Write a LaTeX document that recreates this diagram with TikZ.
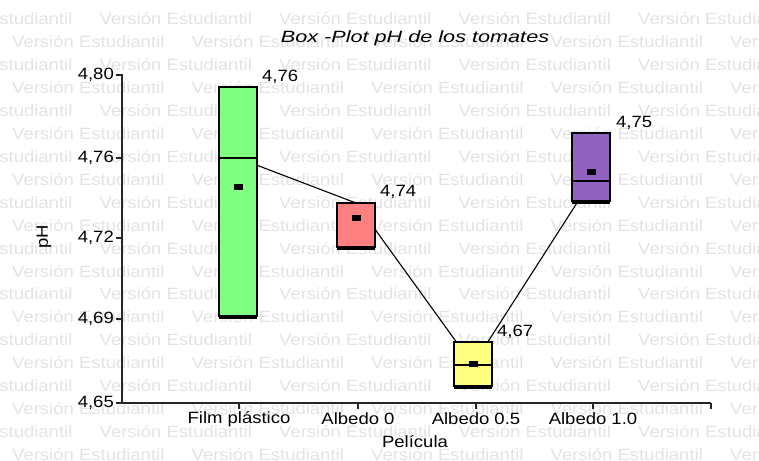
\documentclass[tikz,border=0pt]{standalone}
\usepackage{fontspec}
\setmainfont[FakeStretch=1.135]{Liberation Sans}
\usetikzlibrary{positioning,calc}

\definecolor{filmgreen}{RGB}{128,255,128}
\definecolor{albedored}{RGB}{255,128,128}
\definecolor{albedoyellow}{RGB}{255,255,128}
\definecolor{albedopurple}{RGB}{145,98,192}

\begin{document}
\begin{tikzpicture}[x=1pt, y=-1pt,
    every node/.style={font=\fontsize{16.3}{18}\selectfont, inner sep=0pt},
    watermark/.style={anchor=west, text=black!11},
    axis/.style={draw=black!85, line width=1.6pt},
    tick/.style={draw=black!85, line width=1.2pt},
    pbox/.style={draw=black, line width=1.5pt},
    whisker/.style={draw=black, line width=1.1pt},
    trend/.style={draw=black, line width=1.1pt},
    meanmark/.style={fill=black},
    value/.style={anchor=west}
]

\useasboundingbox (0,0) rectangle (759,460);

% Watermark
\foreach \row in {0,...,19} {
  \pgfmathsetmacro{\yy}{18.3+22.98*\row}
  \pgfmathsetmacro{\xo}{mod(\row,2)==0 ? -80 : 12}
  \foreach \k in {0,...,4} {
    \node[watermark] (wm-\row-\k) at ({\xo+179.5*\k}, \yy) {Versión Estudiantil};
  }
}

% Title
\node (title) at (415,38) {\scalebox{1.17}[1]{\itshape Box -Plot pH de los tomates}};

% Axes
\coordinate (origin) at (122,403);
\coordinate (ytop) at (122,74);
\coordinate (xend) at (711,403);
\draw[axis] (ytop) -- (origin) -- (xend);

\foreach \y/\lab in {75/{4,80}, 158/{4,76}, 238/{4,72}, 319/{4,69}, 403/{4,65}} {
  \draw[tick] (116,\y) -- (122,\y);
  \node[anchor=east] at (114,\y) {\lab};
}
\foreach \x/\lab in {239/Film plástico, 358/Albedo 0, 476/Albedo 0.5, 593/Albedo 1.0} {
  \draw[tick] (\x,403) -- (\x,409);
  \node at (\x,419) {\lab};
}
\draw[tick] (xend) -- ++(0,6);

\node (xlabel) at (415,442) {Película};
\node[rotate=90] (ylabel) at (44,237) {pH};

% Median trend
\coordinate (med-film) at (238,158);
\coordinate (med-a0) at (356,203);
\coordinate (med-a05) at (473,365);
\coordinate (med-a10) at (591,181);
\draw[trend] (med-film) -- (med-a0) -- (med-a05) -- (med-a10);

% Film plastico
\draw[whisker] (219,318) -- (257,318) (238,316) -- (238,318);
\filldraw[pbox, fill=filmgreen] (219,87) rectangle (257,316);
\draw[pbox] (219,158) -- (257,158);
\fill[meanmark] (234,184) rectangle (243,190);
\node[value] (v-film) at (262,77) {4,76};

% Albedo 0
\draw[whisker] (337,249) -- (375,249) (356,247) -- (356,249);
\filldraw[pbox, fill=albedored] (337,203) rectangle (375,247);
\fill[meanmark] (352,215) rectangle (361,221);
\node[value] (v-a0) at (380,192) {4,74};

% Albedo 0.5
\draw[whisker] (454,388) -- (492,388) (473,386) -- (473,388);
\filldraw[pbox, fill=albedoyellow] (454,342) rectangle (492,386);
\draw[pbox] (454,365) -- (492,365);
\fill[meanmark] (469,361) rectangle (478,367);
\node[value] (v-a05) at (497,332) {4,67};

% Albedo 1.0
\draw[whisker] (572,203) -- (610,203) (591,201) -- (591,203);
\filldraw[pbox, fill=albedopurple] (572,133) rectangle (610,201);
\draw[pbox] (572,181) -- (610,181);
\fill[meanmark] (587,169) rectangle (596,175);
\node[value] (v-a10) at (616,123) {4,75};

\end{tikzpicture}
\end{document}
